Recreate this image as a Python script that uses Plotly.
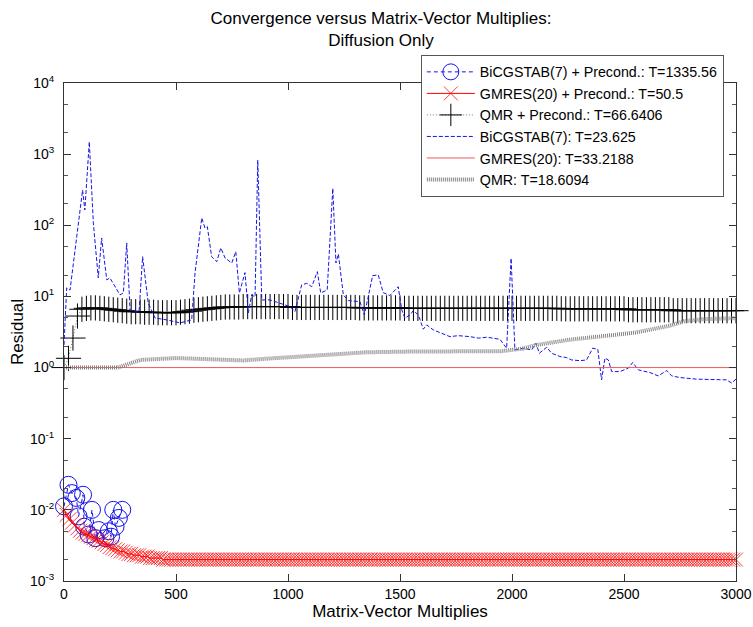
import plotly.graph_objects as go

FONT = "Liberation Sans, Arial, sans-serif"

# BiCGSTAB(7) + Precond.
bp_x = [0, 20, 35, 55, 65, 85, 90, 110, 125, 140, 155, 185, 200, 210, 220, 230, 245, 260]
bp_y = [0.0112, 0.0225, 0.0172, 0.0147, 0.0081, 0.0163, 0.0058, 0.0045, 0.0100, 0.0040,
        0.0052, 0.0040, 0.0050, 0.0042, 0.0100, 0.0058, 0.0077, 0.0100]

# GMRES(20) + Precond. (sampled every 12 MVs)
gp_x = list(range(0, 3001, 12))
gp_y = [0.0100, 0.0085, 0.0074, 0.0066, 0.0060, 0.0055, 0.0051, 0.0048, 0.0046, 0.0044,
        0.0042, 0.0040, 0.0038, 0.0037, 0.0035, 0.0033, 0.0032, 0.0030, 0.0029, 0.0028,
        0.0027, 0.0026, 0.0026, 0.0025, 0.0024, 0.0024, 0.0023, 0.0023, 0.0023, 0.0022,
        0.0022, 0.0022, 0.0021, 0.0021, 0.0021, 0.0021, 0.0021, 0.0020,
        0.002, 0.002, 0.002, 0.002, 0.002, 0.002, 0.002, 0.002, 0.002, 0.002, 0.002, 0.002, 0.002, 0.002, 0.002, 0.002, 0.002, 0.002, 0.002, 0.002,
        0.002, 0.002, 0.002, 0.002, 0.002, 0.002, 0.002, 0.002, 0.002, 0.002, 0.002, 0.002, 0.002, 0.002, 0.002, 0.002, 0.002, 0.002, 0.002, 0.002,
        0.002, 0.002, 0.002, 0.002, 0.002, 0.002, 0.002, 0.002, 0.002, 0.002, 0.002, 0.002, 0.002, 0.002, 0.002, 0.002, 0.002, 0.002, 0.002, 0.002,
        0.002, 0.002, 0.002, 0.002, 0.002, 0.002, 0.002, 0.002, 0.002, 0.002, 0.002, 0.002, 0.002, 0.002, 0.002, 0.002, 0.002, 0.002, 0.002, 0.002,
        0.002, 0.002, 0.002, 0.002, 0.002, 0.002, 0.002, 0.002, 0.002, 0.002, 0.002, 0.002, 0.002, 0.002, 0.002, 0.002, 0.002, 0.002, 0.002, 0.002,
        0.002, 0.002, 0.002, 0.002, 0.002, 0.002, 0.002, 0.002, 0.002, 0.002, 0.002, 0.002, 0.002, 0.002, 0.002, 0.002, 0.002, 0.002, 0.002, 0.002,
        0.002, 0.002, 0.002, 0.002, 0.002, 0.002, 0.002, 0.002, 0.002, 0.002, 0.002, 0.002, 0.002, 0.002, 0.002, 0.002, 0.002, 0.002, 0.002, 0.002,
        0.002, 0.002, 0.002, 0.002, 0.002, 0.002, 0.002, 0.002, 0.002, 0.002, 0.002, 0.002, 0.002, 0.002, 0.002, 0.002, 0.002, 0.002, 0.002, 0.002,
        0.002, 0.002, 0.002, 0.002, 0.002, 0.002, 0.002, 0.002, 0.002, 0.002, 0.002, 0.002, 0.002, 0.002, 0.002, 0.002, 0.002, 0.002, 0.002, 0.002,
        0.002, 0.002, 0.002, 0.002, 0.002, 0.002, 0.002, 0.002, 0.002, 0.002, 0.002, 0.002, 0.002, 0.002, 0.002, 0.002, 0.002, 0.002, 0.002, 0.002,
        0.002, 0.002, 0.002, 0.002, 0.002, 0.002, 0.002, 0.002, 0.002, 0.002, 0.002, 0.002, 0.002]

# QMR + Precond. (sampled every 20 MVs)
qp_x = list(range(0, 3001, 20))
qp_y = [1.0, 1.35, 2.6, 5.3, 6.6, 6.8, 6.9, 6.9, 6.8, 6.7,
        6.6, 6.5, 6.4, 6.3, 6.2, 6.1, 6.1, 6.1, 6.0, 6.0,
        6.0, 5.9, 5.9, 5.9, 5.9, 5.9, 6.0, 6.1, 6.2, 6.4,
        6.5, 6.6, 6.7, 6.8, 6.9, 7.0, 7.1, 7.1, 7.1, 7.1,
        7.2, 7.2, 7.2, 7.2, 7.2, 7.2, 7.2, 7.2, 7.2, 7.2, 7.2,
        7.0, 7.0, 7.0, 7.0, 7.0, 7.0, 7.0, 7.0, 7.0, 7.0, 7.0, 7.0, 7.0, 7.0, 7.0,
        6.9, 6.9, 6.9, 6.9, 6.9, 6.9, 6.9, 6.9, 6.9, 6.9,
        6.8, 6.8, 6.8, 6.8, 6.8, 6.8, 6.8, 6.8, 6.8, 6.8, 6.8, 6.8, 6.8, 6.8, 6.8, 6.8, 6.8, 6.8,
        6.8, 6.8, 6.8, 6.8, 6.8, 6.8, 6.8, 6.8, 6.8, 6.8, 6.8, 6.8, 6.8, 6.8, 6.8, 6.8, 6.8,
        6.7, 6.7, 6.7, 6.7, 6.7, 6.7, 6.7, 6.7, 6.7, 6.7, 6.7, 6.7, 6.7, 6.7, 6.7,
        6.5, 6.5, 6.5, 6.5, 6.5, 6.5, 6.5, 6.5, 6.5, 6.5,
        6.3, 6.3, 6.3, 6.3, 6.3, 6.3, 6.3, 6.3, 6.3, 6.3, 6.3, 6.3, 6.3, 6.3, 6.3]

# BiCGSTAB(7), no preconditioner
b_x = [0, 12, 27, 83, 93, 113, 131, 153, 168, 191,
       205, 250, 265, 280, 295, 317, 335, 351, 376, 406,
       458, 518, 570, 585, 615, 629, 640, 659, 682, 700,
       719, 749, 767, 783, 808, 823, 838, 853, 865, 883,
       920, 964, 1009, 1031, 1061, 1084, 1106, 1131, 1146, 1175,
       1200, 1214, 1225, 1247, 1269, 1321, 1341, 1378, 1403, 1425,
       1455, 1492, 1508, 1522, 1545, 1559, 1582, 1604, 1619, 1649,
       1693, 1723, 1760, 1813, 1850, 1887, 1946, 1976, 1996, 2013,
       2050, 2088, 2107, 2122, 2155, 2177, 2214, 2244, 2266, 2304,
       2333, 2360, 2383, 2400, 2415, 2430, 2445, 2482, 2519, 2539,
       2564, 2616, 2653, 2691, 2713, 2750, 2825, 2899, 2958, 2981,
       3000]
b_y = [2.08, 13.2, 12.3, 313, 164, 1493, 108, 18.2, 66.3, 17.1,
       18.2, 10.5, 11.2, 56.4, 6.46, 6.06, 6.06, 36.2, 8.11, 4.99,
       4.68, 4.25, 4.68, 21.4, 127, 91.6, 95.5, 36.2, 30.8, 48,
       34.7, 29.5, 42.6, 11.2, 21.6, 5.87, 10.5, 9.84, 826, 8.93,
       8.93, 8.11, 7.19, 6.12, 14.5, 15.3, 13.7, 22.3, 11.2, 12.3,
       331, 29.5, 39.5, 10.5, 8.73, 8.45, 5.5, 19.6, 20, 11.3,
       10.3, 13.7, 6.46, 4.94, 5.5, 6.31, 5.5, 3.46, 3.98, 3.38,
       2.97, 2.72, 2.81, 2.72, 2.59, 2.67, 2.5, 1.87, 34.4, 1.77,
       1.87, 1.77, 2.2, 1.59, 1.93, 1.59, 1.43, 1.38, 1.28, 1.25,
       1.28, 1.87, 1.81, 0.672, 1.36, 1.28, 0.879, 0.879, 0.98, 1.18,
       0.928, 0.85, 0.764, 0.908, 0.764, 0.724, 0.687, 0.672, 0.672, 0.604,
       0.69]

# GMRES(20), no preconditioner
g_x = [0, 3000]
g_y = [1.0, 1.0]

# QMR, no preconditioner
q_x = [0, 240, 280, 340, 500, 650, 800, 900, 1050, 1200, 1350, 1550, 1950, 2050, 2100,
       2250, 2400, 2550, 2700, 2770, 2850, 3000]
q_y = [1.0, 1.0, 1.1, 1.28, 1.36, 1.3, 1.26, 1.33, 1.42, 1.52, 1.64, 1.68, 1.7, 1.85, 2.05,
       2.45, 2.72, 3.1, 3.85, 4.5, 4.78, 4.95]

names = ["BiCGSTAB(7) + Precond.: T=1335.56", "GMRES(20) + Precond.: T=50.5",
         "QMR + Precond.: T=66.6406", "BiCGSTAB(7): T=23.625",
         "GMRES(20): T=33.2188", "QMR: T=18.6094"]

y_tickvals = [1e-3, 1e-2, 1e-1, 1e0, 1e1, 1e2, 1e3, 1e4]
y_ticktext = ["10<sup>-3</sup>", "10<sup>-2</sup>", "10<sup>-1</sup>", "10<sup>0</sup>",
              "10<sup>1</sup>", "10<sup>2</sup>", "10<sup>3</sup>", "10<sup>4</sup>"]
x_tickvals = [0, 500, 1000, 1500, 2000, 2500, 3000]

BLUE = "rgb(20,20,235)"

fig = go.Figure()
fig.add_trace(go.Scatter(
    x=bp_x, y=bp_y, mode="lines+markers", name=names[0], cliponaxis=False,
    line=dict(color=BLUE, width=1, dash="4px,3px"),
    marker=dict(symbol="circle-open", size=17, color=BLUE, line=dict(width=1))))
fig.add_trace(go.Scatter(
    x=gp_x, y=gp_y, mode="lines+markers", name=names[1], cliponaxis=False,
    line=dict(color="rgb(255,0,0)", width=1),
    marker=dict(symbol="x-thin-open", size=14, color="rgba(255,0,0,0.75)", line=dict(width=1))))
fig.add_trace(go.Scatter(
    x=qp_x, y=qp_y, mode="lines+markers", name=names[2], cliponaxis=False,
    line=dict(color="rgb(120,120,120)", width=1, dash="1px,2px"),
    marker=dict(symbol="cross-thin-open", size=18, color="black", line=dict(width=1))))
fig.add_trace(go.Scatter(
    x=b_x, y=b_y, mode="lines", name=names[3],
    line=dict(color=BLUE, width=1, dash="4px,2px")))
fig.add_trace(go.Scatter(
    x=g_x, y=g_y, mode="lines", name=names[4],
    line=dict(color="rgb(235,90,90)", width=1)))
fig.add_trace(go.Scatter(
    x=q_x, y=q_y, mode="lines", name=names[5],
    line=dict(color="rgb(130,130,130)", width=4, dash="1px,1px")))

axis_common = dict(showline=True, linecolor="#333333", linewidth=1, mirror="allticks",
                   ticks="inside", tickcolor="#333333", ticklen=7, showgrid=False,
                   zeroline=False, automargin=False,
                   tickfont=dict(family=FONT, size=14, color="black"))

fig.update_layout(
    width=753, height=627,
    margin=dict(l=64, r=17, t=83, b=46, pad=0),
    paper_bgcolor="white", plot_bgcolor="white",
    font=dict(family=FONT, color="black"),
    title=dict(text="Convergence versus Matrix-Vector Multiplies:<br>Diffusion Only",
               x=0.506, xanchor="center", y=0.962, yanchor="top",
               font=dict(family=FONT, size=17, color="black")),
    xaxis=dict(range=[0, 3000], tickvals=x_tickvals,
               title=dict(text="Matrix-Vector Multiplies", font=dict(size=17), standoff=3),
               **axis_common),
    yaxis=dict(type="log", range=[-3, 4], tickvals=y_tickvals, ticktext=y_ticktext,
               ticklabelstandoff=6,
               title=dict(text="Residual", font=dict(size=17), standoff=1),
               minor=dict(ticks="inside", ticklen=4, tickcolor="#555555", showgrid=False),
               **axis_common),
    legend=dict(x=0.531, y=1.056, xanchor="left", yanchor="top",
                bgcolor="white", bordercolor="#555555", borderwidth=1,
                font=dict(family=FONT, size=14.25, color="black"),
                itemwidth=48, tracegroupgap=0),
    showlegend=True,
)

fig.write_html("out.html")
